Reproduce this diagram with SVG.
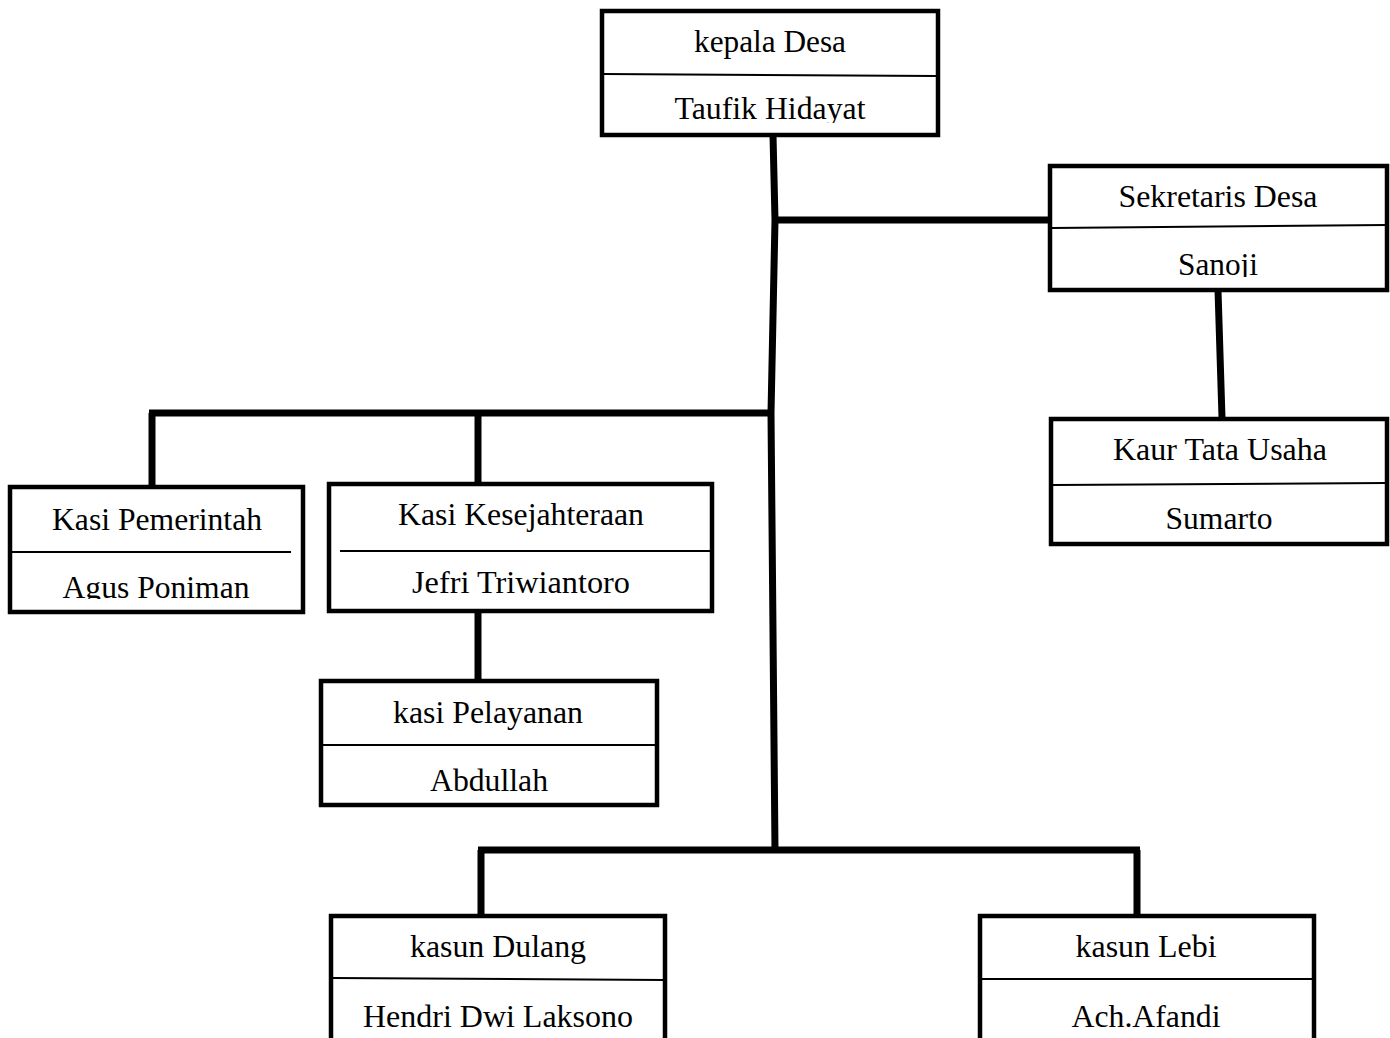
<svg xmlns="http://www.w3.org/2000/svg" width="1390" height="1038" viewBox="0 0 1390 1038">
<style>
.box{fill:#fff;stroke:#000;stroke-width:4.5}
.div{stroke:#000;stroke-width:2;fill:none}
.t{font-family:"Liberation Serif","Times New Roman",serif;font-size:32px;fill:#000;text-anchor:middle}
.c{stroke:#000;stroke-width:7;fill:none;stroke-linecap:butt}
</style>
<defs>
<clipPath id="clipTop"><rect x="601" y="76" width="337" height="47"/></clipPath>
<clipPath id="clipSek"><rect x="1050" y="227" width="338" height="50"/></clipPath>
<clipPath id="clipPem"><rect x="10" y="553" width="293" height="46"/></clipPath>
</defs>
<rect width="1390" height="1038" fill="#fff"/>
<g id="connectors">
<path class="c" d="M773 135 L775 220 L771 413 L775 851"/>
<path class="c" d="M774 220 H1050"/>
<path class="c" d="M149 413 H773"/>
<path class="c" d="M152 413 V487"/>
<path class="c" d="M478 413 V483"/>
<path class="c" d="M478 611 V680"/>
<path class="c" d="M1218 290 L1222 418"/>
<path class="c" d="M478 850 H1140"/>
<path class="c" d="M481 850 V915"/>
<path class="c" d="M1137 850 V915"/>
</g>
<g id="node-kepala">
<rect class="box" x="602" y="11" width="336" height="124"/>
<path class="div" d="M603 74 L936 76"/>
<text class="t" x="770" y="52" textLength="152" lengthAdjust="spacingAndGlyphs">kepala Desa</text>
<text class="t" x="770" y="119" textLength="191" lengthAdjust="spacingAndGlyphs" clip-path="url(#clipTop)">Taufik Hidayat</text>
</g>
<g id="node-sekretaris">
<rect class="box" x="1050" y="166" width="337" height="124"/>
<path class="div" d="M1052 228 L1386 225"/>
<text class="t" x="1218" y="207" textLength="199" lengthAdjust="spacingAndGlyphs">Sekretaris Desa</text>
<text class="t" x="1218" y="275" textLength="80" lengthAdjust="spacingAndGlyphs" clip-path="url(#clipSek)">Sanoji</text>
</g>
<g id="node-kaur">
<rect class="box" x="1051" y="419" width="336" height="125"/>
<path class="div" d="M1053 485 L1386 483"/>
<text class="t" x="1220" y="460" textLength="214" lengthAdjust="spacingAndGlyphs">Kaur Tata Usaha</text>
<text class="t" x="1219" y="529" textLength="107" lengthAdjust="spacingAndGlyphs">Sumarto</text>
</g>
<g id="node-pemerintah">
<rect class="box" x="10" y="487" width="293" height="125"/>
<path class="div" d="M12 552 H291"/>
<text class="t" x="157" y="530" textLength="210" lengthAdjust="spacingAndGlyphs">Kasi Pemerintah</text>
<text class="t" x="156" y="598" textLength="187" lengthAdjust="spacingAndGlyphs" clip-path="url(#clipPem)">Agus Poniman</text>
</g>
<g id="node-kesejahteraan">
<rect class="box" x="329" y="484" width="383" height="127"/>
<path class="div" d="M340 551 H711"/>
<text class="t" x="521" y="525" textLength="246" lengthAdjust="spacingAndGlyphs">Kasi Kesejahteraan</text>
<text class="t" x="521" y="593" textLength="218" lengthAdjust="spacingAndGlyphs">Jefri Triwiantoro</text>
</g>
<g id="node-pelayanan">
<rect class="box" x="321" y="681" width="336" height="124"/>
<path class="div" d="M322 745 H656"/>
<text class="t" x="488" y="723" textLength="190" lengthAdjust="spacingAndGlyphs">kasi Pelayanan</text>
<text class="t" x="489" y="791" textLength="118" lengthAdjust="spacingAndGlyphs">Abdullah</text>
</g>
<g id="node-dulang">
<rect class="box" x="331" y="916" width="334" height="140"/>
<path class="div" d="M332 978 L664 980"/>
<text class="t" x="498" y="957" textLength="176" lengthAdjust="spacingAndGlyphs">kasun Dulang</text>
<text class="t" x="498" y="1027" textLength="270" lengthAdjust="spacingAndGlyphs">Hendri Dwi Laksono</text>
</g>
<g id="node-lebi">
<rect class="box" x="980" y="916" width="334" height="140"/>
<path class="div" d="M981 979 H1313"/>
<text class="t" x="1146" y="957" textLength="141" lengthAdjust="spacingAndGlyphs">kasun Lebi</text>
<text class="t" x="1146" y="1027" textLength="149" lengthAdjust="spacingAndGlyphs">Ach.Afandi</text>
</g>
</svg>
